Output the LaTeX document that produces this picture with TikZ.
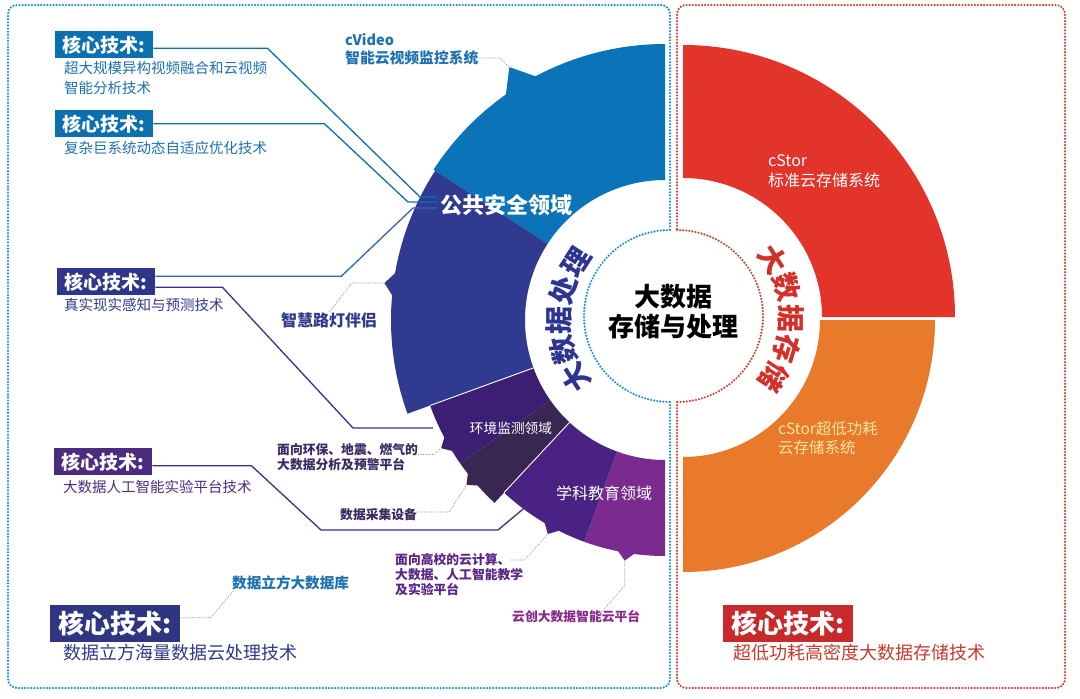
\documentclass[tikz,border=0pt]{standalone}
\usepackage{fontspec}
\setmainfont{Noto Sans CJK SC}
\definecolor{cblue}{HTML}{0B73B7}
\definecolor{cdblue}{HTML}{303A8E}
\definecolor{cenva}{HTML}{3C1F73}
\definecolor{cenvb}{HTML}{3A2652}
\definecolor{cedua}{HTML}{4A2283}
\definecolor{cedub}{HTML}{7B2A8D}
\definecolor{cred}{HTML}{E3342B}
\definecolor{corange}{HTML}{E9792B}
\definecolor{dotblue}{HTML}{1B8FD8}
\definecolor{dotred}{HTML}{C8452F}
\definecolor{tblue}{HTML}{1F70B3}
\definecolor{tindigo}{HTML}{2F3A8A}
\definecolor{tpurple}{HTML}{4A2D80}
\definecolor{tdark}{HTML}{3B2A62}
\definecolor{tviolet}{HTML}{5A2585}
\definecolor{tmag}{HTML}{8A2A8C}
\definecolor{tred}{HTML}{C73A2D}
\definecolor{bxblue}{HTML}{0B6FB0}
\definecolor{bxindigo}{HTML}{2F3589}
\definecolor{bxpurple}{HTML}{4B2B7E}
\definecolor{bxnavy}{HTML}{2E3581}
\definecolor{bxred}{HTML}{C8292A}
\definecolor{lblue}{HTML}{2C68B0}
\definecolor{cyellow}{HTML}{FDE6A0}
\definecolor{cindigo}{HTML}{2D3590}
\definecolor{credtxt}{HTML}{D4302A}
% ring segment: cx, cy, a1, a2, rin, rout, colour (math angles)
\newcommand{\rseg}[7]{\fill[#7] (#1,#2) ++(-#3:#6) arc[start angle=-#3,end angle=-#4,radius=#6] -- ++(-#4:#5-#6) arc[start angle=-#4,end angle=-#3,radius=#5] -- cycle;}
% tab: cx, cy, angle, half width, rout, protrusion, colour
\newcommand{\rtab}[7]{\fill[#7] (#1,#2) +(-#3+#4:#5-1) -- +(-#3:#5+#6) -- +(-#3-#4:#5-1) -- cycle;}
\begin{document}
\begin{tikzpicture}[x=1pt,y=-1pt,
  box/.style={fill=#1,text=white,font=\bfseries\fontsize{19}{20}\selectfont,inner sep=0pt,minimum width=98pt,minimum height=27pt,anchor=north west},
  bigbox/.style={fill=#1,text=white,font=\bfseries\fontsize{26}{28}\selectfont,inner sep=0pt,minimum width=130pt,minimum height=37pt,anchor=north west},
  desc/.style={anchor=west,inner sep=0pt,text=#1,font=\fontsize{14.5}{17}\selectfont},
  bigdesc/.style={anchor=west,inner sep=0pt,text=#1,font=\fontsize{18}{20}\selectfont},
  lbl/.style={inner sep=0pt,text=#1,font=\bfseries\fontsize{12.8}{15}\selectfont,anchor=west},
  conn/.style={draw=#1,line width=1.3pt},
  lead/.style={draw=black!45,line width=0.7pt,dash pattern=on 1pt off 1.3pt},
  bdot/.style={draw=dotblue,line width=2.4pt,dash pattern=on 0pt off 3.1pt,line cap=round},
  rdot/.style={draw=dotred,line width=2.4pt,dash pattern=on 0pt off 3.1pt,line cap=round},
  segtxt/.style={text=white,inner sep=0pt},
  arcchar/.style={font=\bfseries\fontsize{28}{28}\selectfont,text=#1,inner sep=0pt}
]
\useasboundingbox (0,0) rectangle (1080,699);
\fill[white] (0,0) rectangle (1080,699);

% ---- left ring (processing) ----
\rseg{665}{320}{90}{147}{140}{276}{cblue}
\rtab{665}{320}{121.6}{3.8}{276}{21}{cblue}
\rseg{665}{320}{147}{200}{140}{274}{cdblue}
\rtab{665}{320}{172.5}{2.6}{274}{9}{cdblue}
\rseg{665}{320}{200}{215}{140}{250}{cenva}
\rtab{665}{320}{209.8}{2}{250}{8}{cenva}
\rseg{665}{320}{215}{227}{140}{250}{cenvb}
\rtab{665}{320}{219.7}{2}{250}{8}{cenvb}
\rseg{665}{320}{227}{250}{140}{236}{cedua}
\rtab{665}{320}{241.3}{2.2}{236}{8}{cedua}
\rseg{665}{320}{250}{270}{140}{236}{cedub}
\rtab{665}{320}{260.5}{2.2}{236}{8}{cedub}
\draw[white,line width=0.9pt] (665,320) +(-200:140) -- +(-200:250);
\draw[white,line width=0.9pt] (665,320) +(-227:140) -- +(-227:236);

% ---- right ring (storage) ----
\rseg{683}{317}{0}{90}{139}{272}{cred}
\rseg{683}{320}{270}{360}{137}{252}{corange}

% tab tips
\path (665,320) ++(-121.6:297) coordinate (t1);
\path (665,320) ++(-172.5:283) coordinate (t2);
\path (665,320) ++(-209.8:258) coordinate (t3);
\path (665,320) ++(-219.7:258) coordinate (t4);
\path (665,320) ++(-241.3:244) coordinate (t5);
\path (665,320) ++(-260.5:244) coordinate (t6);

% ---- dotted panels ----
\draw[bdot,rounded corners=9pt] (670,402) -- (670,688) -- (8,688) -- (8,5) -- (670,5) -- (670,230);
\draw[bdot] (670,230) arc[start angle=-90,end angle=-270,radius=86];
\draw[rdot,rounded corners=9pt] (677,402) -- (677,688) -- (1065,688) -- (1065,5) -- (677,5) -- (677,230);
\draw[rdot] (677,230) arc[start angle=-90,end angle=90,radius=86];

% ---- centre ----
\node[font=\bfseries\fontsize{26}{30}\selectfont,align=center,inner sep=0pt] (core) at (673,312) {大数据\\存储与处理};
\foreach \c/\t/\r [count=\i] in {大/-213/123,数/-196.5/106.5,据/-180/90,处/-163.5/73.5,理/-147/57}
  \path (665,320) ++(\t:106) node[arcchar=cindigo,rotate=\r] (lp\i) {\c};
\foreach \c/\t/\r [count=\i] in {大/-33/-57,数/-16.5/-73.5,据/0/-90,存/16.5/-106.5,储/33/-123}
  \path (683,318) ++(\t:108) node[arcchar=credtxt,rotate=\r] (rp\i) {\c};

% ---- texts in segments ----
\node[segtxt,font=\bfseries\fontsize{22}{24}\selectfont,anchor=west] (ps) at (440,205) {公共安全领域};
\node[segtxt,font=\fontsize{13.7}{15}\selectfont] (envl) at (511,428) {环境监测领域};
\node[segtxt,font=\fontsize{16}{18}\selectfont] (edul) at (604,493) {学科教育领域};
\node[segtxt,font=\fontsize{16}{20}\selectfont,anchor=north west,align=left] (cs1) at (768,154) {cStor\\标准云存储系统};
\node[segtxt,text=cyellow,font=\fontsize{15.5}{19}\selectfont,anchor=north west,align=left] (cs2) at (778,421) {cStor超低功耗\\云存储系统};

% ---- core technology boxes ----
\node[box=bxblue] (k1) at (55,31) {核心技术:};
\node[desc=tblue] (d1) at (64,68) {超大规模异构视频融合和云视频};
\node[desc=tblue] (d1b) at (64,88) {智能分析技术};
\node[box=bxblue] (k2) at (55,110) {核心技术:};
\node[desc=tblue] (d2) at (64,148) {复杂巨系统动态自适应优化技术};
\node[box=bxindigo] (k3) at (57,268) {核心技术:};
\node[desc=tindigo] (d3) at (64,305) {真实现实感知与预测技术};
\node[box=bxpurple] (k4) at (54,448) {核心技术:};
\node[desc=tpurple] (d4) at (63,487) {大数据人工智能实验平台技术};
\node[bigbox=bxnavy] (k5) at (50,605) {核心技术:};
\node[bigdesc=tindigo] (d5) at (63,653) {数据立方海量数据云处理技术};
\node[bigbox=bxred] (k6) at (723,605) {核心技术:};
\node[bigdesc=tred] (d6) at (733,653) {超低功耗高密度大数据存储技术};

% ---- labels ----
\node[lbl=tblue,font=\bfseries\fontsize{14.5}{17}\selectfont] (cv0) at (345,40) {cVideo};
\node[lbl=tblue,font=\bfseries\fontsize{14.8}{17}\selectfont] (cv) at (345,58) {智能云视频监控系统};
\node[lbl=tindigo,font=\bfseries\fontsize{16}{18}\selectfont] (sl) at (281,320) {智慧路灯伴侣};
\node[lbl=tdark,align=left] (env) at (277,457.5) {面向环保、地震、燃气的\\大数据分析及预警平台};
\node[lbl=tdark] (acq) at (340,515) {数据采集设备};
\node[lbl=tviolet] (edu1) at (395,560) {面向高校的云计算、};
\node[lbl=tviolet] (edu2) at (395,574.5) {大数据、人工智能教学};
\node[lbl=tviolet] (edu3) at (395,589) {及实验平台};
\node[lbl=tmag] (yc) at (512,617) {云创大数据智能云平台};
\node[lbl=tblue,font=\bfseries\fontsize{14.6}{17}\selectfont] (cube) at (232,583) {数据立方大数据库};

% ---- connectors ----
\coordinate (e1) at (437,197);
\coordinate (e2) at (437,202);
\coordinate (e3) at (437,208);
\coordinate (e4) at (433,428);
\coordinate (e5) at (540,495);
\draw[conn=bxblue] ([yshift=-3.5pt]k1.east) -- ++(114,0) -- (420,197) -- (e1);
\draw[conn=bxblue] (k2.east) -- ++(171,0) -- (408,202) -- (e2);
\draw[conn=lblue] ([yshift=5.5pt]k3.east) -- ++(186,0) -- (413,208) -- (e3);
\draw[conn=bxindigo] ([yshift=-5.5pt]k3.east) -- ++(67,0) -- (353,428) -- (e4);
\draw[conn=bxpurple] ([yshift=-4pt]k4.east) -- ++(99,0) -- (321,530) -- (498,530) -- (e5);

% ---- dotted leaders ----
\draw[lead] (cv.east) -- ++(21,0) -- (t1);
\coordinate (d2a) at (352,283);
\draw[lead] (sl.north) -- (d2a) -- (t2);
\draw[lead] ([yshift=3pt]env.east) -- ++(16,0) -- (t3);
\draw[lead] ([yshift=3pt]acq.east) -- ++(32,0) -- (t4);
\draw[lead] (edu1.east) -- ++(14,0) -- (t5);
\draw[lead] (t6) -- ++(0,25) -- ([xshift=-40pt,yshift=-3pt]yc.north east);
\draw[lead] ([yshift=6pt]k5.east) -- ++(30,0) -- ([xshift=2pt]cube.south west);
\end{tikzpicture}
\end{document}
